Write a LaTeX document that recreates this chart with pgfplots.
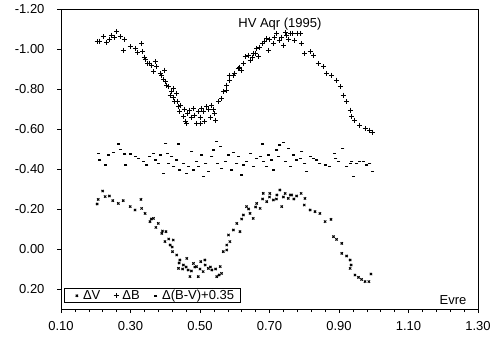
\documentclass[border=0pt]{standalone}
\usepackage{fontspec}
\setmainfont{Liberation Sans}
\usepackage{pgfplots}
\pgfplotsset{compat=1.18}
\pgfplotstableread{
x y
0.204 -1.037
0.210 -1.040
0.222 -1.062
0.231 -1.032
0.240 -1.050
0.246 -1.070
0.255 -1.060
0.260 -1.087
0.270 -1.062
0.282 -1.050
0.279 -0.995
0.299 -1.012
0.313 -1.003
0.320 -0.982
0.332 -1.028
0.335 -0.987
0.340 -0.960
0.342 -0.948
0.350 -0.930
0.356 -0.928
0.360 -0.920
0.371 -0.937
0.375 -0.912
0.366 -0.887
0.385 -0.878
0.390 -0.870
0.395 -0.850
0.399 -0.895
0.402 -0.837
0.405 -0.820
0.409 -0.812
0.418 -0.790
0.423 -0.803
0.414 -0.770
0.425 -0.760
0.433 -0.778
0.435 -0.740
0.428 -0.737
0.438 -0.712
0.442 -0.687
0.445 -0.720
0.452 -0.662
0.455 -0.700
0.458 -0.640
0.462 -0.628
0.465 -0.680
0.471 -0.695
0.475 -0.660
0.481 -0.703
0.485 -0.670
0.490 -0.628
0.495 -0.687
0.500 -0.660
0.502 -0.630
0.505 -0.703
0.510 -0.690
0.512 -0.637
0.519 -0.712
0.525 -0.700
0.530 -0.660
0.534 -0.720
0.540 -0.700
0.543 -0.678
0.546 -0.645
0.553 -0.737
0.562 -0.753
0.569 -0.787
0.577 -0.820
0.584 -0.870
0.577 -0.795
0.586 -0.845
0.596 -0.870
0.600 -0.880
0.610 -0.903
0.615 -0.910
0.618 -0.895
0.625 -0.930
0.630 -0.962
0.640 -0.970
0.644 -0.945
0.650 -0.960
0.653 -0.978
0.660 -0.980
0.663 -1.003
0.668 -0.962
0.670 -1.010
0.679 -1.028
0.685 -1.040
0.692 -1.053
0.697 -0.995
0.700 -1.050
0.711 -1.028
0.715 -1.060
0.721 -1.078
0.730 -1.045
0.735 -1.060
0.740 -1.020
0.745 -1.082
0.750 -1.070
0.755 -1.050
0.759 -1.078
0.765 -1.080
0.773 -1.045
0.780 -1.080
0.788 -1.078
0.793 -1.028
0.802 -0.978
0.817 -0.987
0.826 -0.970
0.840 -0.928
0.855 -0.912
0.865 -0.878
0.879 -0.870
0.893 -0.845
0.903 -0.812
0.912 -0.770
0.922 -0.737
0.932 -0.695
0.937 -0.662
0.946 -0.645
0.960 -0.620
0.975 -0.603
0.989 -0.595
0.997 -0.585
}\dB
\pgfplotstableread{
x y
0.204 -0.225
0.207 -0.248
0.220 -0.290
0.227 -0.262
0.239 -0.265
0.249 -0.242
0.265 -0.228
0.279 -0.242
0.299 -0.212
0.313 -0.195
0.330 -0.248
0.332 -0.203
0.342 -0.178
0.356 -0.137
0.360 -0.150
0.366 -0.153
0.380 -0.128
0.373 -0.108
0.390 -0.078
0.392 -0.090
0.402 -0.087
0.399 -0.037
0.410 -0.050
0.414 -0.020
0.420 -0.010
0.423 -0.045
0.421 0.013
0.433 0.030
0.440 0.070
0.442 0.055
0.438 0.097
0.450 0.100
0.452 0.080
0.460 0.090
0.462 0.047
0.466 0.105
0.471 0.138
0.475 0.110
0.481 0.072
0.485 0.090
0.490 0.088
0.495 0.138
0.500 0.100
0.502 0.063
0.514 0.055
0.515 0.080
0.509 0.113
0.524 0.097
0.530 0.090
0.534 0.105
0.545 0.100
0.548 0.138
0.555 0.130
0.558 0.088
0.562 0.122
0.567 0.013
0.577 -0.020
0.582 -0.070
0.577 0.005
0.586 -0.037
0.596 -0.095
0.606 -0.128
0.615 -0.087
0.620 -0.150
0.625 -0.170
0.634 -0.212
0.640 -0.200
0.644 -0.178
0.653 -0.153
0.660 -0.210
0.663 -0.228
0.673 -0.203
0.680 -0.250
0.682 -0.278
0.692 -0.237
0.700 -0.260
0.701 -0.278
0.711 -0.245
0.720 -0.250
0.721 -0.270
0.730 -0.295
0.735 -0.212
0.740 -0.260
0.745 -0.278
0.754 -0.253
0.760 -0.270
0.764 -0.270
0.770 -0.250
0.778 -0.265
0.791 -0.278
0.802 -0.253
0.800 -0.220
0.817 -0.195
0.831 -0.187
0.845 -0.178
0.860 -0.137
0.877 -0.148
0.884 -0.062
0.893 -0.048
0.908 -0.028
0.908 0.022
0.922 0.035
0.932 0.055
0.935 0.080
0.932 0.097
0.946 0.130
0.956 0.142
0.965 0.152
0.975 0.163
0.986 0.163
0.992 0.125
}\dV
\pgfplotstableread{
x y
0.207 -0.478
0.212 -0.445
0.227 -0.420
0.236 -0.470
0.251 -0.482
0.265 -0.525
0.270 -0.498
0.284 -0.475
0.287 -0.420
0.299 -0.475
0.313 -0.462
0.322 -0.453
0.337 -0.437
0.347 -0.420
0.356 -0.462
0.366 -0.478
0.371 -0.445
0.380 -0.428
0.385 -0.470
0.394 -0.378
0.402 -0.528
0.406 -0.478
0.409 -0.428
0.419 -0.462
0.425 -0.412
0.433 -0.445
0.438 -0.525
0.442 -0.395
0.452 -0.428
0.460 -0.378
0.466 -0.412
0.476 -0.487
0.481 -0.395
0.490 -0.437
0.495 -0.412
0.505 -0.470
0.509 -0.362
0.517 -0.428
0.524 -0.387
0.534 -0.462
0.539 -0.495
0.548 -0.537
0.550 -0.428
0.558 -0.512
0.562 -0.403
0.572 -0.437
0.582 -0.470
0.591 -0.395
0.596 -0.482
0.606 -0.428
0.610 -0.462
0.620 -0.370
0.625 -0.420
0.634 -0.437
0.644 -0.478
0.653 -0.412
0.663 -0.453
0.673 -0.462
0.680 -0.525
0.682 -0.437
0.692 -0.412
0.697 -0.470
0.706 -0.445
0.711 -0.395
0.721 -0.495
0.726 -0.462
0.730 -0.520
0.740 -0.532
0.745 -0.437
0.754 -0.503
0.759 -0.412
0.769 -0.470
0.778 -0.445
0.788 -0.453
0.793 -0.487
0.802 -0.428
0.807 -0.387
0.817 -0.462
0.826 -0.453
0.836 -0.445
0.845 -0.428
0.860 -0.420
0.872 -0.412
0.887 -0.478
0.891 -0.453
0.899 -0.437
0.911 -0.503
0.922 -0.412
0.932 -0.428
0.937 -0.437
0.941 -0.362
0.951 -0.428
0.960 -0.437
0.970 -0.437
0.980 -0.420
0.989 -0.428
0.997 -0.387
}\dBV
\begin{document}
\begin{tikzpicture}
\begin{axis}[
  scale only axis, width=417pt, height=300pt,
  xmin=0.1, xmax=1.3, ymin=-1.2, ymax=0.3, y dir=reverse,
  xtick={0.1,0.3,0.5,0.7,0.9,1.1,1.3},
  xticklabels={0.10,0.30,0.50,0.70,0.90,1.10,1.30},
  minor x tick num=4,
  ytick={-1.2,-1.0,-0.8,-0.6,-0.4,-0.2,0,0.2},
  yticklabels={-1.20,-1.00,-0.80,-0.60,-0.40,-0.20,0.00,0.20},
  tick align=outside, major tick length=4pt, minor tick length=3pt,
  xtick pos=left, ytick pos=left,
  axis line style={line width=0.6pt},
  tick style={black, line width=0.6pt},
  every tick label/.append style={font=\fontsize{13}{15}\selectfont},
  xticklabel style={yshift=-4.5pt},
  yticklabel style={xshift=-9pt},
  legend style={at={(0,0)}, anchor=south west, xshift=3pt, yshift=6pt,
    font=\fontsize{13}{15}\selectfont, draw=black, line width=0.6pt,
    inner xsep=6pt, inner ysep=1.5pt, legend columns=3,
    nodes={inner sep=0pt},
    /tikz/every even column/.append style={column sep=9.3pt}},
  legend image code/.code={\path (-6pt,0pt) (5.7pt,0pt);
    \draw[mark repeat=2,mark phase=2] plot coordinates {(-0.5pt,0pt)(0pt,0pt)(0.5pt,0pt)};},
]
\addplot[only marks, mark=x, mark size=1.6pt, line width=1pt] table {\dV};
\addlegendentry{ΔV}
\addplot[only marks, mark=+, mark size=2.5pt, line width=1pt] table {\dB};
\addlegendentry{ΔB}
\addplot[only marks, mark=-, mark size=1.5pt, line width=1.5pt] table {\dBV};
\addlegendentry{Δ(B-V)+0.35}
\node[font=\fontsize{13}{15}\selectfont] at (axis cs:0.73,-1.125) {HV Aqr (1995)};
\node[font=\fontsize{13}{15}\selectfont] at (axis cs:1.228,0.255) {Evre};
\end{axis}
\path ([xshift=-61pt,yshift=-29pt]current axis.south west) rectangle ([xshift=21pt,yshift=9pt]current axis.north east);
\end{tikzpicture}
\end{document}
